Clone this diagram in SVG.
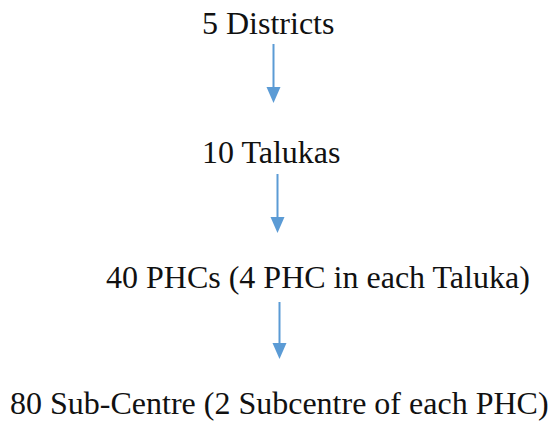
<svg xmlns="http://www.w3.org/2000/svg" width="551" height="422" viewBox="0 0 551 422">
<defs>
<style>
.t{font-family:"Liberation Serif","Times New Roman",serif;font-size:32px;fill:#111111}
.c{stroke:#5b9bd5;stroke-width:2;fill:none}
.h{fill:#5b9bd5}
</style>
</defs>
<rect width="551" height="422" fill="#ffffff"/>
<g id="node-districts"><text class="t" x="202" y="34">5 Districts</text></g>
<g id="node-talukas"><text class="t" x="202" y="163">10 Talukas</text></g>
<g id="node-phcs"><text class="t" x="106" y="288">40 PHCs (4 PHC in each Taluka)</text></g>
<g id="node-subcentre"><text class="t" x="10" y="414">80 Sub-Centre (2 Subcentre of each PHC)</text></g>
<g id="connectors">
<line class="c" x1="273.5" y1="44" x2="273.5" y2="90"/>
<polygon class="h" points="266.5,87 280.5,87 273.5,103"/>
<line class="c" x1="277.5" y1="174" x2="277.5" y2="220"/>
<polygon class="h" points="270.5,217 284.5,217 277.5,233"/>
<line class="c" x1="279.5" y1="302" x2="279.5" y2="346"/>
<polygon class="h" points="272.5,343 286.5,343 279.5,359"/>
</g>
</svg>
